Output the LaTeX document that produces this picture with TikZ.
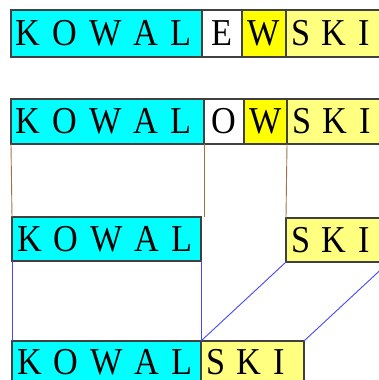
\documentclass[tikz,border=0pt]{standalone}
\usepackage{fontspec}
\usepackage{tikz}
\usetikzlibrary{positioning}
\newfontfamily\boxfont[FakeStretch=0.9]{Liberation Serif}
\definecolor{stemcyan}{RGB}{0,255,255}
\definecolor{joinyellow}{RGB}{255,255,0}
\definecolor{endyellow}{RGB}{255,255,128}
\definecolor{boxgray}{RGB}{64,64,64}
\definecolor{splitbrown}{RGB}{160,115,70}
\definecolor{mergeblue}{RGB}{70,70,255}
\newcommand\lgap{\hspace{12pt}}

\begin{document}
\begin{tikzpicture}[
  x=1pt,y=-1pt,
  cell/.style={draw=boxgray,line width=1.2pt,minimum height=45pt,inner xsep=5pt,
    inner ysep=0pt,outer sep=0pt,font=\boxfont\fontsize{38}{38}\selectfont},
  stem/.style={cell,fill=stemcyan,align=left},
  tail/.style={cell,fill=endyellow,align=left,text width=93pt},
  split/.style={draw=splitbrown,line width=0.9pt},
  merge/.style={draw=mergeblue,line width=0.9pt}
]
\useasboundingbox (0,0) rectangle (379,380);
\clip (0,0) rectangle (379,380);
% source form
\node[stem,anchor=north west,text width=181pt,minimum height=47pt] (r1kowal) at (11,10) {\mbox{K\lgap O\lgap W\lgap A\lgap L}};
\node[cell,fill=white,minimum width=40pt,minimum height=47pt,right=0pt of r1kowal] (r1e) {E};
\node[cell,fill=joinyellow,minimum width=44pt,minimum height=47pt,right=0pt of r1e] (r1w) {W};
\node[tail,minimum height=47pt,right=0pt of r1w] (r1ski) {\mbox{S\lgap K\lgap I}};
% alternated form
\node[stem,anchor=north west,text width=183pt] (r2kowal) at (11,99) {\mbox{K\lgap O\lgap W\lgap A\lgap L}};
\node[cell,fill=white,minimum width=40pt,right=0pt of r2kowal] (r2o) {O};
\node[cell,fill=joinyellow,minimum width=43pt,right=0pt of r2o] (r2w) {W};
\node[tail,right=0pt of r2w] (r2ski) {\mbox{S\lgap K\lgap I}};
% split parts
\node[stem,anchor=north west,text width=179pt,minimum height=44pt] (r3kowal) at (12,217) {\mbox{K\lgap O\lgap W\lgap A\lgap L}};
\node[tail,anchor=north west,minimum height=44pt] (r3ski) at (286,218) {\mbox{S\lgap K\lgap I}};
% joined form
\node[stem,anchor=north west,text width=179pt,minimum height=42pt] (r4kowal) at (12,341) {\mbox{K\lgap O\lgap W\lgap A\lgap L}};
\node[tail,minimum height=42pt,right=0pt of r4kowal] (r4ski) {\mbox{S\lgap K\lgap I}};
\draw[split] (r2kowal.south west) -- (r3kowal.north west);
\draw[split] (r2kowal.south east) -- (r2kowal.south east |- r3kowal.north);
\draw[split] (r2ski.south west) -- (r3ski.north west);
\draw[merge] (r3kowal.south west) -- (r4kowal.north west);
\draw[merge] (r3kowal.south east) -- (r4kowal.north east);
\draw[merge] (r3ski.south west) -- (r4ski.north west);
\draw[merge] (r3ski.south east) -- (r4ski.north east);
\end{tikzpicture}
\end{document}
